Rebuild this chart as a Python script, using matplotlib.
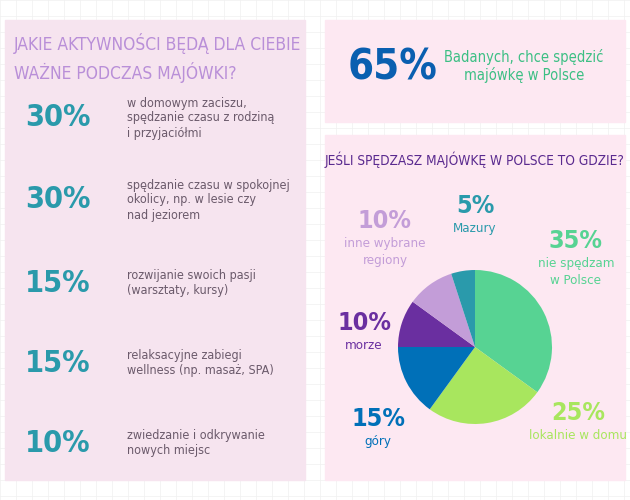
import matplotlib
matplotlib.use("Agg")
import matplotlib.pyplot as plt
from matplotlib.patches import Rectangle

FONT = "DejaVu Sans"
STRETCH = "condensed"

# left panel data
act_pct = ["30%", "30%", "15%", "15%", "10%"]
act_text = [
    "w domowym zaciszu,\nspędzanie czasu z rodziną\ni przyjaciółmi",
    "spędzanie czasu w spokojnej\nokolicy, np. w lesie czy\nnad jeziorem",
    "rozwijanie swoich pasji\n(warsztaty, kursy)",
    "relaksacyjne zabiegi\nwellness (np. masaż, SPA)",
    "zwiedzanie i odkrywanie\nnowych miejsc",
]
act_y = [118, 200, 283, 363, 443]

# pie data
pie_labels = ["nie spędzam\nw Polsce", "lokalnie w domu", "góry", "morze",
              "inne wybrane\nregiony", "Mazury"]
pie_values = [35, 25, 15, 10, 10, 5]
pie_colors = ["#57d393", "#a8e65e", "#0070b8", "#6a2fa0", "#c39dd8", "#2a9aab"]
pie_label_pos = [(576, 255), (578, 427), (378, 433), (364, 337), (385, 235), (475, 220)]

fig = plt.figure(figsize=(6.3, 5.0), dpi=100)
bg = fig.add_axes([0, 0, 1, 1])
bg.set_xlim(0, 630); bg.set_ylim(500, 0); bg.axis("off")

# faint grid background
for gx in range(0, 631, 16):
    bg.plot([gx, gx], [0, 500], color="#f0f0f0", lw=0.5, zorder=0)
for gy in range(0, 501, 16):
    bg.plot([0, 630], [gy, gy], color="#f0f0f0", lw=0.5, zorder=0)

bg.add_patch(Rectangle((5, 20), 300, 460, color="#f6e4ef", zorder=1))
bg.add_patch(Rectangle((325, 20), 300, 102, color="#fde8f2", zorder=1))
bg.add_patch(Rectangle((325, 135), 300, 345, color="#fde8f2", zorder=1))

kw = dict(family=FONT, fontstretch=STRETCH, zorder=3)
bg.text(14, 58, "JAKIE AKTYWNOŚCI BĘDĄ DLA CIEBIE\nWAŻNE PODCZAS MAJÓWKI?",
        color="#b98fd8", fontsize=12.5, va="center", ha="left",
        linespacing=1.5, **kw)
for pct, txt, y in zip(act_pct, act_text, act_y):
    bg.text(58, y, pct, color="#2a9aab", fontsize=22, fontweight="bold",
            ha="center", va="center", **kw)
    bg.text(127, y, txt, color="#6b5a6b", fontsize=9,
            ha="left", va="center", linespacing=1.2, **kw)

bg.text(393, 68, "65%", color="#0a5fb0", fontsize=30, fontweight="bold",
        ha="center", va="center", **kw)
bg.text(524, 66, "Badanych, chce spędzić\nmajówkę w Polsce", color="#3cbf84",
        fontsize=10.5, ha="center", va="center", **kw)

bg.text(475, 160, "JEŚLI SPĘDZASZ MAJÓWKĘ W POLSCE TO GDZIE?", color="#5a2a8f",
        fontsize=9.8, ha="center", va="center", **kw)

for lab, v, c, (lx, ly) in zip(pie_labels, pie_values, pie_colors, pie_label_pos):
    bg.text(lx, ly - 2, f"{v}%", color=c, fontsize=18, fontweight="bold",
            ha="center", va="bottom", **kw)
    bg.text(lx, ly + 2, lab, color=c, fontsize=9.5, ha="center", va="top",
            linespacing=1.4, **kw)

# pie: center (475,347), radius 77 px
r = 77
pax = fig.add_axes([(475 - r) / 630, (500 - 347 - r) / 500, 2 * r / 630, 2 * r / 500])
pax.pie(pie_values, colors=pie_colors, startangle=90, counterclock=False,
        wedgeprops=dict(linewidth=0))
pax.set_xlim(-1, 1); pax.set_ylim(-1, 1)
pax.set_aspect("auto")
pax.axis("off")

fig.savefig("out.png", dpi=100)
